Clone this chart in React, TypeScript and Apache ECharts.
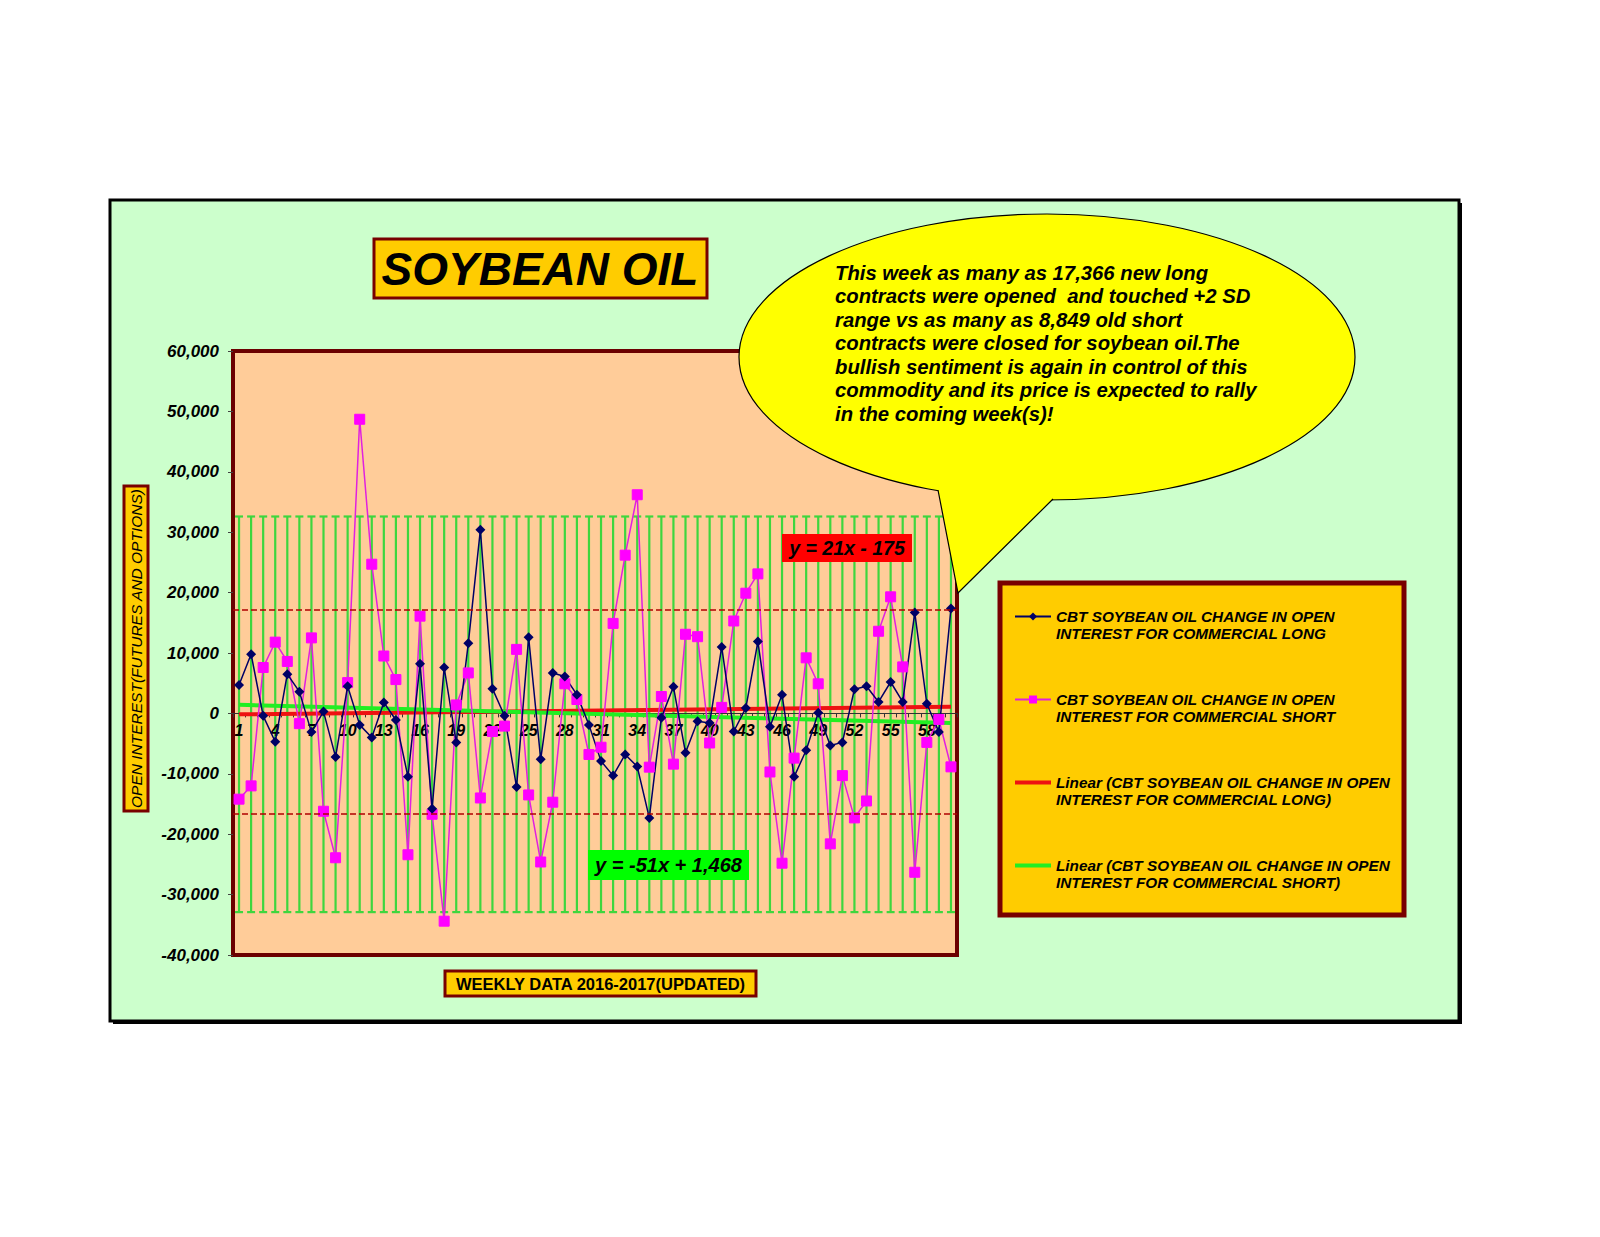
import React, { useEffect, useRef } from "react";
import * as echarts from "echarts";

const weeks = ["1","2","3","4","5","6","7","8","9","10","11","12","13","14","15","16","17","18","19","20","21","22","23","24","25","26","27","28","29","30","31","32","33","34","35","36","37","38","39","40","41","42","43","44","45","46","47","48","49","50","51","52","53","54","55","56","57","58","59","60"];

const longChange = [4700, 9800, -400, -4700, 6500, 3600, -3100, 300, -7200, 4500, -1900, -4000, 1800, -1100, -10500, 8200, -15800, 7600, -4800, 11600, 30400, 4100, -400, -12200, 12600, -7600, 6700, 6100, 3100, -1900, -7900, -10300, -6800, -8800, -17300, -700, 4400, -6500, -1300, -1600, 11000, -3000, 900, 11900, -2200, 3100, -10500, -6100, 100, -5300, -4800, 4000, 4500, 1900, 5200, 1900, 16700, 1600, -3100, 17366];

const shortChange = [-14200, -12000, 7600, 11800, 8600, -1700, 12500, -16200, -23900, 5100, 48700, 24700, 9500, 5600, -23400, 16100, -16700, -34400, 1400, 6700, -14000, -3000, -2100, 10600, -13500, -24600, -14700, 4900, 2300, -6800, -5600, 14900, 26200, 36200, -8900, 2800, -8400, 13100, 12700, -4900, 1000, 15300, 19900, 23100, -9700, -24800, -7400, 9200, 4900, -21600, -10300, -17300, -14500, 13600, 19300, 7700, -26300, -4800, -1000, -8849];

// trend line values at week 1 and week 60
const trendLongEnds = [-154, 1085];
const trendShortEnds = [1417, -1592];

// error band and +/-2 SD lines
const errorBarTop = 32600;
const errorBarBottom = -32900;
const sdUpper = 17200;
const sdLower = -16550;

const yTicks = { min: -40000, max: 60000, interval: 10000 };

const LONG = "CBT SOYBEAN OIL CHANGE IN OPEN INTEREST FOR COMMERCIAL LONG";
const SHORT = "CBT SOYBEAN OIL CHANGE IN OPEN INTEREST FOR COMMERCIAL SHORT";
const TLONG = "Linear (CBT SOYBEAN OIL CHANGE IN OPEN INTEREST FOR COMMERCIAL LONG)";
const TSHORT = "Linear (CBT SOYBEAN OIL CHANGE IN OPEN INTEREST FOR COMMERCIAL SHORT)";

const calloutText = [
  "This week as many as 17,366 new long",
  "contracts were opened  and touched +2 SD",
  "range vs as many as 8,849 old short",
  "contracts were closed for soybean oil.The",
  "bullish sentiment is again in control of this",
  "commodity and its price is expected to rally",
  "in the coming week(s)!",
];

const FONT = "'Liberation Sans', Arial, Helvetica, sans-serif";
const MAROON = "#780000";
const GOLD = "#FFCC00";

// plot geometry
const GRID = { left: 233, top: 351, width: 724, height: 604 };

export default function App() {
  const ref = useRef<HTMLDivElement>(null);
  useEffect(() => {
    if (!ref.current) return;
    const chart = echarts.init(ref.current, undefined, { renderer: "svg" });
    const labelFont = { fontFamily: FONT, fontWeight: "bold", fontStyle: "italic", color: "#000" };
    // distance of the zero line above the plot bottom
    const zeroOffset = -GRID.height * (0 - yTicks.min) / (yTicks.max - yTicks.min);
    const option: any = {
      animation: false,
      backgroundColor: "#ffffff",
      grid: {
        ...GRID,
        show: true, backgroundColor: "#FFCC99", borderColor: "#6B0000", borderWidth: 4,
      },
      xAxis: {
        type: "category",
        data: weeks,
        boundaryGap: true,
        position: "bottom",
        offset: zeroOffset,
        axisLine: { onZero: false, lineStyle: { color: "#333", width: 1 } },
        axisTick: { show: true, interval: 0, length: 4, lineStyle: { color: "#333" } },
        axisLabel: { interval: 2, margin: 9, fontSize: 16, ...labelFont },
        splitLine: { show: false },
        z: 3,
      },
      yAxis: {
        type: "value",
        min: yTicks.min, max: yTicks.max, interval: yTicks.interval,
        axisLine: { show: false },
        axisTick: { show: true, length: 5, lineStyle: { color: "#444" } },
        axisLabel: { margin: 14, fontSize: 17, ...labelFont, formatter: (v: number) => v.toLocaleString("en-US") },
        splitLine: { show: false },
      },
      legend: {
        data: [
          { name: LONG, lineStyle: { width: 2 } },
          { name: SHORT, lineStyle: { width: 2 } },
          { name: TLONG, lineStyle: { width: 4 }, itemStyle: { opacity: 0 } },
          { name: TSHORT, lineStyle: { width: 4 }, itemStyle: { opacity: 0 } },
        ],
        orient: "vertical",
        left: 1013, top: 591,
        padding: 0,
        itemWidth: 36, itemHeight: 10, itemGap: 32,
        selectedMode: false,
        formatter: (name: string) => " \n" + name.replace(" IN OPEN ", " IN OPEN\n"),
        textStyle: { fontSize: 15.3, lineHeight: 17, ...labelFont },
      },
      series: [
        {
          type: "custom",
          name: "error bars",
          silent: true,
          encode: { x: 0, y: [1, 2] },
          data: weeks.map((w, i) => [i, errorBarTop, errorBarBottom]),
          renderItem: (params: any, api: any) => {
            const x = api.value(0);
            const t = api.coord([x, api.value(1)]);
            const b = api.coord([x, api.value(2)]);
            const st = { stroke: "#3ED63E", lineWidth: 2.2 };
            return {
              type: "group",
              children: [
                { type: "line", shape: { x1: t[0], y1: t[1], x2: b[0], y2: b[1] }, style: st },
                { type: "line", shape: { x1: t[0] - 4, y1: t[1], x2: t[0] + 4, y2: t[1] }, style: st },
                { type: "line", shape: { x1: b[0] - 4, y1: b[1], x2: b[0] + 4, y2: b[1] }, style: st },
              ],
            };
          },
        },
        {
          type: "line",
          name: TLONG,
          data: [[0, trendLongEnds[0]], [weeks.length - 1, trendLongEnds[1]]],
          symbol: "none",
          lineStyle: { color: "#EE1111", width: 4 },
          itemStyle: { color: "#EE1111" },
          markLine: {
            silent: true, symbol: "none", label: { show: false },
            lineStyle: { type: "dashed", color: "#B00000", width: 1.5 },
            data: [{ yAxis: sdUpper }, { yAxis: sdLower }],
          },
        },
        {
          type: "line",
          name: TSHORT,
          data: [[0, trendShortEnds[0]], [weeks.length - 1, trendShortEnds[1]]],
          symbol: "none",
          lineStyle: { color: "#22EE22", width: 4 },
          itemStyle: { color: "#22EE22" },
        },
        {
          type: "line",
          name: SHORT,
          data: shortChange,
          symbol: "rect",
          symbolSize: 10,
          showAllSymbol: true,
          lineStyle: { color: "#E020E0", width: 1.5 },
          itemStyle: { color: "#FF00FF", borderColor: "#FF00FF" },
        },
        {
          type: "line",
          name: LONG,
          data: longChange,
          symbol: "diamond",
          symbolSize: 10,
          showAllSymbol: true,
          lineStyle: { color: "#000066", width: 1.5 },
          itemStyle: { color: "#000066" },
        },
      ],
      graphic: [
        { type: "rect", z: -11, shape: { x: 113, y: 203, width: 1349, height: 821 }, style: { fill: "#000" } },
        { type: "rect", z: -10, shape: { x: 110, y: 200, width: 1349, height: 821 }, style: { fill: "#CCFFCC", stroke: "#000", lineWidth: 3 } },
        // title
        { type: "rect", z: 1, shape: { x: 374, y: 239, width: 333, height: 59 }, style: { fill: GOLD, stroke: MAROON, lineWidth: 3 } },
        { type: "text", z: 2, x: 540, y: 269, style: { text: "SOYBEAN OIL", fontFamily: FONT, fontSize: 46, fontWeight: "bold", fontStyle: "italic", fill: "#000", align: "center", verticalAlign: "middle" } },
        // y axis title
        { type: "rect", z: 1, shape: { x: 124, y: 486, width: 24, height: 325 }, style: { fill: GOLD, stroke: MAROON, lineWidth: 3 } },
        { type: "text", z: 2, x: 136.5, y: 648.5, rotation: Math.PI / 2, style: { text: "OPEN INTEREST(FUTURES AND OPTIONS)", fontFamily: FONT, fontSize: 15.5, fontStyle: "italic", fill: "#000", align: "center", verticalAlign: "middle" } },
        // x axis title
        { type: "rect", z: 1, shape: { x: 445, y: 971, width: 311, height: 25 }, style: { fill: GOLD, stroke: MAROON, lineWidth: 3 } },
        { type: "text", z: 2, x: 600.5, y: 984, style: { text: "WEEKLY DATA 2016-2017(UPDATED)", fontFamily: FONT, fontSize: 16.5, fontWeight: "bold", fill: "#000", align: "center", verticalAlign: "middle" } },
        // legend box
        { type: "rect", z: 1, shape: { x: 1000, y: 583, width: 404, height: 332 }, style: { fill: GOLD, stroke: MAROON, lineWidth: 5 } },
        // equation labels
        { type: "rect", z: 10, shape: { x: 782, y: 534, width: 130, height: 28 }, style: { fill: "#FF0000" } },
        { type: "text", z: 11, x: 847, y: 548, style: { text: "y = 21x - 175", fontFamily: FONT, fontSize: 19.5, fontWeight: "bold", fontStyle: "italic", fill: "#000", align: "center", verticalAlign: "middle" } },
        { type: "rect", z: 10, shape: { x: 588, y: 850, width: 161, height: 30 }, style: { fill: "#00FF00" } },
        { type: "text", z: 11, x: 668.5, y: 865, style: { text: "y = -51x + 1,468", fontFamily: FONT, fontSize: 20, fontWeight: "bold", fontStyle: "italic", fill: "#000", align: "center", verticalAlign: "middle" } },
        // callout
        { type: "ellipse", z: 20, shape: { cx: 1047, cy: 357, rx: 308, ry: 143 }, style: { fill: "#FFFF00", stroke: "#000", lineWidth: 1.2 } },
        { type: "polygon", z: 21, shape: { points: [[928, 472], [938, 490], [958, 593], [1053, 499], [1066, 482]] }, style: { fill: "#FFFF00" } },
        { type: "polyline", z: 22, shape: { points: [[938, 490], [958, 593], [1053, 499]] }, style: { stroke: "#000", lineWidth: 1.2, fill: null } },
        { type: "text", z: 23, x: 835, y: 261, style: { text: calloutText.join("\n"), fontFamily: FONT, fontSize: 20.3, lineHeight: 23.5, fontWeight: "bold", fontStyle: "italic", fill: "#000", align: "left", verticalAlign: "top" } },
      ],
    };
    chart.setOption(option);
    return () => chart.dispose();
  }, []);
  return <div ref={ref} style={{ position: "absolute", left: 0, top: 0, width: 1600, height: 1237 }} />;
}
